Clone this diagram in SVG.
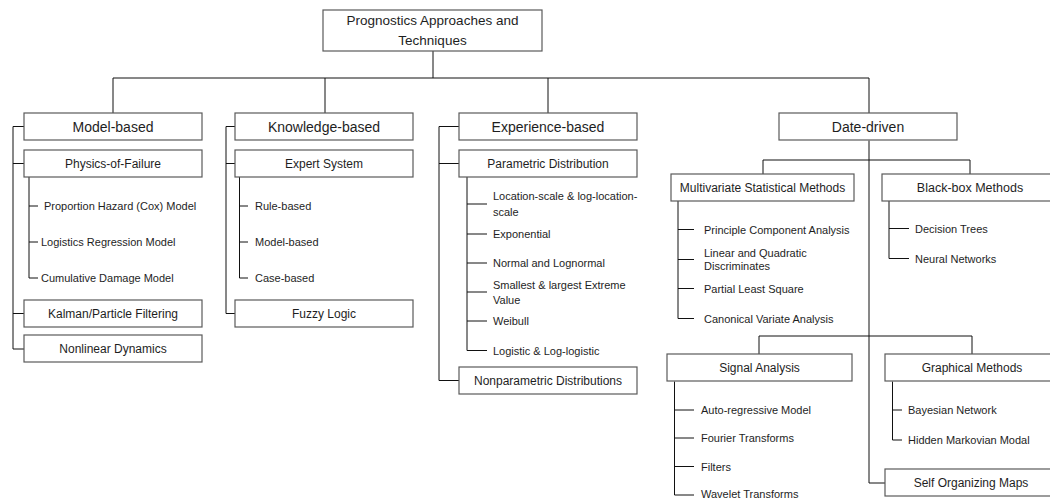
<svg xmlns="http://www.w3.org/2000/svg" width="1050" height="499" viewBox="0 0 1050 499">
<style>
.box{fill:#fff;stroke:#5a5a5a;stroke-width:1.2}
.ln{fill:none;stroke:#111;stroke-width:1}
text{font-family:"Liberation Sans",Arial,sans-serif;fill:#1e1e1e}
.t1{font-size:14px;text-anchor:middle}
.t2{font-size:12px;text-anchor:middle}
.t3{font-size:11px}
</style>
<rect width="1050" height="499" fill="#fff"/>
<g id="connectors" class="ln">
<path d="M433 51V78M113 78H869M113 78V113M325 78V113M548 78V113M869 78V113"/>
<path d="M24 126.5H13V349H24M13 163.5H24M13 313.5H24"/>
<path d="M29 177V278H38M29 206H38M29 242H38"/>
<path d="M235 126.5H226V313.5H235M226 163.5H235"/>
<path d="M239.5 177V278H248M239.5 206H248M239.5 242H248"/>
<path d="M459 126.5H439V380.5H459M439 163.5H459"/>
<path d="M467 177V350.5H487M467 204H487M467 234H487M467 263H487M467 292H487M467 321H487"/>
<path d="M869 140.5V483H885M763 160H970M763 160V174M970 160V174"/>
<path d="M678 201V318.5H694M678 229.5H694M678 259.5H694M678 288.5H694"/>
<path d="M889 201V258.5H909M889 228.5H909"/>
<path d="M759 336H972M759 336V354M972 336V354"/>
<path d="M674.5 381.5V495H694M674.5 410H694M674.5 438H694M674.5 466.5H694"/>
<path d="M892.5 381.5V440H902M892.5 410H902"/>
</g>
<g id="root"><rect class="box" x="323" y="10" width="219" height="41"/><text class="t1" style="font-size:13.5px" x="432.5" y="25">Prognostics Approaches and</text><text class="t1" style="font-size:13.5px" x="432.5" y="45">Techniques</text></g>
<g id="model-based"><rect class="box" x="24" y="113" width="178" height="27"/><text class="t1" x="113" y="131.5">Model-based</text></g>
<g id="physics"><rect class="box" x="24" y="150" width="178" height="27"/><text class="t2" x="113" y="168">Physics-of-Failure</text>
<text class="t3" x="44" y="210">Proportion Hazard (Cox) Model</text>
<text class="t3" x="41" y="246">Logistics Regression Model</text>
<text class="t3" x="41" y="282">Cumulative Damage Model</text></g>
<g id="kalman"><rect class="box" x="24" y="300" width="178" height="27"/><text class="t2" x="113" y="318">Kalman/Particle Filtering</text></g>
<g id="nonlinear"><rect class="box" x="24" y="335" width="178" height="27"/><text class="t2" x="113" y="353">Nonlinear Dynamics</text></g>
<g id="knowledge-based"><rect class="box" x="235" y="113" width="178" height="27"/><text class="t1" x="324" y="131.5">Knowledge-based</text></g>
<g id="expert"><rect class="box" x="235" y="150" width="178" height="27"/><text class="t2" x="324" y="168">Expert System</text>
<text class="t3" x="255" y="210">Rule-based</text>
<text class="t3" x="255" y="246">Model-based</text>
<text class="t3" x="255" y="282">Case-based</text></g>
<g id="fuzzy"><rect class="box" x="235" y="300" width="178" height="27"/><text class="t2" x="324" y="318">Fuzzy Logic</text></g>
<g id="experience-based"><rect class="box" x="459" y="113" width="178" height="27"/><text class="t1" x="548" y="131.5">Experience-based</text></g>
<g id="parametric"><rect class="box" x="459" y="150" width="178" height="27"/><text class="t2" x="548" y="168">Parametric Distribution</text>
<text class="t3" x="493" y="200">Location-scale &amp; log-location-</text>
<text class="t3" x="493" y="216">scale</text>
<text class="t3" x="493" y="238">Exponential</text>
<text class="t3" x="493" y="267">Normal and Lognormal</text>
<text class="t3" x="493" y="289">Smallest &amp; largest Extreme</text>
<text class="t3" x="493" y="304">Value</text>
<text class="t3" x="493" y="325">Weibull</text>
<text class="t3" x="493" y="355">Logistic &amp; Log-logistic</text></g>
<g id="nonparametric"><rect class="box" x="459" y="367" width="178" height="27"/><text class="t2" x="548" y="385">Nonparametric Distributions</text></g>
<g id="data-driven"><rect class="box" x="779" y="113" width="178" height="27"/><text class="t1" x="868" y="131.5">Date-driven</text></g>
<g id="multivariate"><rect class="box" x="671" y="174" width="183" height="27"/><text class="t2" x="762.5" y="192">Multivariate Statistical Methods</text>
<text class="t3" x="704" y="233.5">Principle Component Analysis</text>
<text class="t3" x="704" y="256.5">Linear and Quadratic</text>
<text class="t3" x="704" y="270">Discriminates</text>
<text class="t3" x="704" y="292.5">Partial Least Square</text>
<text class="t3" x="704" y="322.5">Canonical Variate Analysis</text></g>
<g id="blackbox"><rect class="box" x="882" y="174" width="176" height="27"/><text class="t2" style="font-size:12.5px" x="970" y="192">Black-box Methods</text>
<text class="t3" x="915" y="232.5">Decision Trees</text>
<text class="t3" x="915" y="262.5">Neural Networks</text></g>
<g id="signal"><rect class="box" x="667" y="354" width="185" height="27"/><text class="t2" x="759.5" y="372">Signal Analysis</text>
<text class="t3" x="701" y="414">Auto-regressive Model</text>
<text class="t3" x="701" y="442">Fourier Transforms</text>
<text class="t3" x="701" y="470.5">Filters</text>
<text class="t3" x="701" y="497.5">Wavelet Transforms</text></g>
<g id="graphical"><rect class="box" x="885" y="354" width="174" height="27"/><text class="t2" x="972" y="372">Graphical Methods</text>
<text class="t3" x="908" y="414">Bayesian Network</text>
<text class="t3" x="908" y="444">Hidden Markovian Modal</text></g>
<g id="som"><rect class="box" x="885" y="469" width="172" height="27"/><text class="t2" x="971" y="487">Self Organizing Maps</text></g>
</svg>
